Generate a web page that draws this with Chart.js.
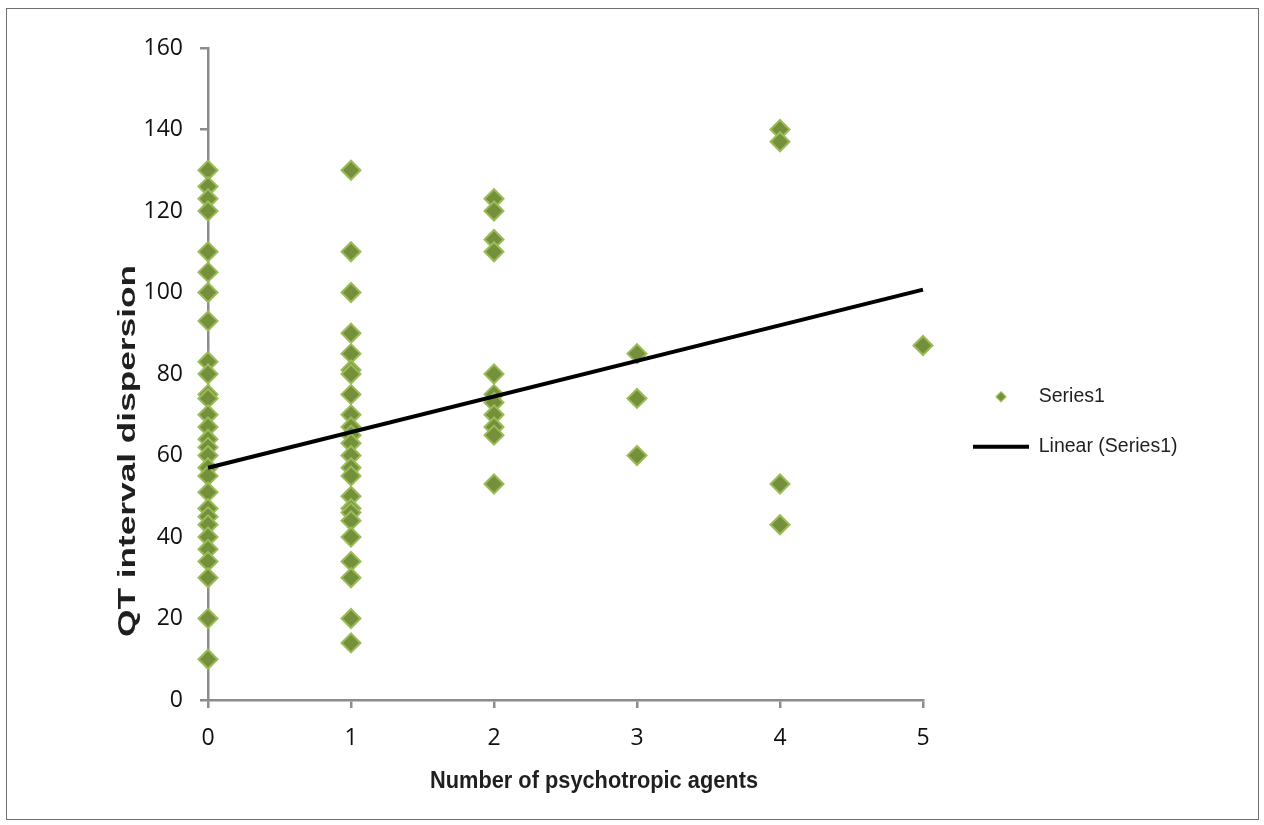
<!DOCTYPE html>
<html>
<head>
<meta charset="utf-8">
<title>QT interval dispersion vs psychotropic agents</title>
<script src="https://cdn.jsdelivr.net/npm/chart.js@4.4.1/dist/chart.umd.min.js"></script>
<style>
  body { margin: 0; background: #fff; }
  canvas { display: block; }
</style>
</head>
<body>
<canvas id="qtChart" width="1264" height="825"></canvas>
<script>
// ---- data ----
var agentCounts = [0, 1, 2, 3, 4, 5];
var qtAgents0 = [130, 126, 123, 120, 110, 105, 100, 93, 83, 80, 75, 74, 70, 67, 64, 62, 60, 57, 55, 51, 47, 45, 43, 40, 37, 34, 30, 20, 10];
var qtAgents1 = [130, 110, 100, 90, 85, 81, 80, 75, 70, 67, 65, 63, 60, 57, 55, 50, 47, 46, 44, 40, 34, 30, 20, 14];
var qtAgents2 = [123, 120, 113, 110, 80, 75, 73, 70, 67, 65, 53];
var qtAgents3 = [85, 74, 60];
var qtAgents4 = [140, 137, 53, 43];
var qtAgents5 = [87];
// excel linear trendline, ends read at x = 0 and x = 5
var trendX = [0, 5];
var trendY = [57, 100.7];

var seriesName = 'Series1';
var trendName = 'Linear (Series1)';
var xTitle = 'Number of psychotropic agents';
var yTitle = 'QT interval dispersion';
var xMin = 0, xMax = 5, xStep = 1;
var yMin = 0, yMax = 160, yStep = 20;

var qtByAgents = [qtAgents0, qtAgents1, qtAgents2, qtAgents3, qtAgents4, qtAgents5];
var scatterPoints = [];
qtByAgents.forEach(function (col, i) {
    col.forEach(function (v) {
        scatterPoints.push({x: agentCounts[i], y: v});
    });
});
var trendPoints = trendX.map(function (x, i) { return {x: x, y: trendY[i]}; });

var green = '#74903a';
var greenEdge = '#9bbb59';
var axisGrey = '#8c8c8c';
var textCol = '#111';

// small diamond for the legend (rectRot gets stretched by pointStyleWidth)
var legendDiamond = document.createElement('canvas');
legendDiamond.width = 12;
legendDiamond.height = 12;
(function () {
    var c = legendDiamond.getContext('2d');
    c.beginPath();
    c.moveTo(6, 1); c.lineTo(11, 6); c.lineTo(6, 11); c.lineTo(1, 6);
    c.closePath();
    c.fillStyle = green;
    c.fill();
    c.lineWidth = 1.2;
    c.strokeStyle = greenEdge;
    c.stroke();
})();

function drawAxisTitle(ctx, text, x, y, size, length, rotate) {
    ctx.save();
    ctx.font = 'bold ' + size + 'px "Liberation Sans Narrow", "Liberation Sans", Arial, sans-serif';
    var w = ctx.measureText(text).width;
    ctx.translate(x, y);
    if (rotate) ctx.rotate(-Math.PI / 2);
    ctx.scale(length / w, 1);
    ctx.textAlign = 'center';
    ctx.textBaseline = 'alphabetic';
    ctx.fillStyle = '#1f1f1f';
    ctx.fillText(text, 0, 0);
    ctx.restore();
}

var framePlugin = {
    id: 'frame',
    beforeDraw: function (chart) {
        var ctx = chart.ctx;
        ctx.save();
        ctx.fillStyle = '#fff';
        ctx.fillRect(0, 0, chart.width, chart.height);
        ctx.strokeStyle = '#707070';
        ctx.lineWidth = 1;
        ctx.strokeRect(6.5, 8.5, 1252, 811);
        ctx.restore();
    },
    afterLayout: function (chart) {
        // put the legend where excel had it
        var lg = chart.legend;
        var pad = lg.options.labels.padding;
        var w = lg.width, h = lg.height;
        lg.left = 973 - pad;
        lg.right = lg.left + w;
        lg.top = 387 - pad;
        lg.bottom = lg.top + h;
    },
    afterDraw: function (chart) {
        var ctx = chart.ctx;
        drawAxisTitle(ctx, yTitle, 135, 451, 24, 372, true);
        drawAxisTitle(ctx, xTitle, 594, 788, 24, 328, false);
    }
};

var tickFont = {family: '"Open Sans", sans-serif', size: 23};

var qtChart = new Chart(document.getElementById('qtChart'), {
    type: 'scatter',
    data: {
        datasets: [{
            label: seriesName,
            data: scatterPoints,
            pointStyle: 'rectRot',
            pointRadius: 9.5,
            pointHoverRadius: 9.5,
            backgroundColor: green,
            borderColor: greenEdge,
            borderWidth: 2,
            clip: false,
            order: 1
        }, {
            type: 'line',
            label: trendName,
            data: trendPoints,
            borderColor: '#000',
            borderWidth: 4,
            pointRadius: 0,
            pointStyle: 'line',
            fill: false,
            clip: false,
            order: -1
        }]
    },
    options: {
        responsive: false,
        animation: false,
        devicePixelRatio: 1,
        layout: {padding: {left: 108, right: 101, top: 48, bottom: 5}},
        plugins: {
            tooltip: {enabled: false},
            legend: {
                position: 'right',
                align: 'start',
                maxWidth: 240,
                labels: {
                    usePointStyle: true,
                    pointStyleWidth: 56,
                    boxHeight: 10,
                    padding: 30.5,
                    color: '#1f1f1f',
                    font: {family: '"Liberation Sans", Arial, sans-serif', size: 19.5},
                    sort: function (a, b) { return a.datasetIndex - b.datasetIndex; },
                    generateLabels: function (chart) {
                        var items = Chart.defaults.plugins.legend.labels.generateLabels(chart);
                        items.forEach(function (item) {
                            if (item.datasetIndex === 0) {
                                item.pointStyle = legendDiamond;
                            } else {
                                item.pointStyle = 'line';
                                item.lineWidth = 4;
                                item.strokeStyle = '#000';
                            }
                        });
                        return items;
                    }
                }
            }
        },
        scales: {
            x: {
                type: 'linear',
                min: xMin,
                max: xMax,
                ticks: {stepSize: xStep, padding: 17, color: textCol, font: tickFont},
                grid: {drawOnChartArea: false, color: axisGrey, lineWidth: 2.5, tickLength: 8},
                border: {color: axisGrey, width: 2.5},
                afterFit: function (scale) { scale.height = 120; }
            },
            y: {
                min: yMin,
                max: yMax,
                ticks: {stepSize: yStep, padding: 17, color: textCol, font: tickFont},
                grid: {drawOnChartArea: false, color: axisGrey, lineWidth: 2.5, tickLength: 8},
                border: {color: axisGrey, width: 2.5},
                afterFit: function (scale) { scale.width = 100; }
            }
        }
    },
    plugins: [framePlugin]
});
</script>
</body>
</html>
